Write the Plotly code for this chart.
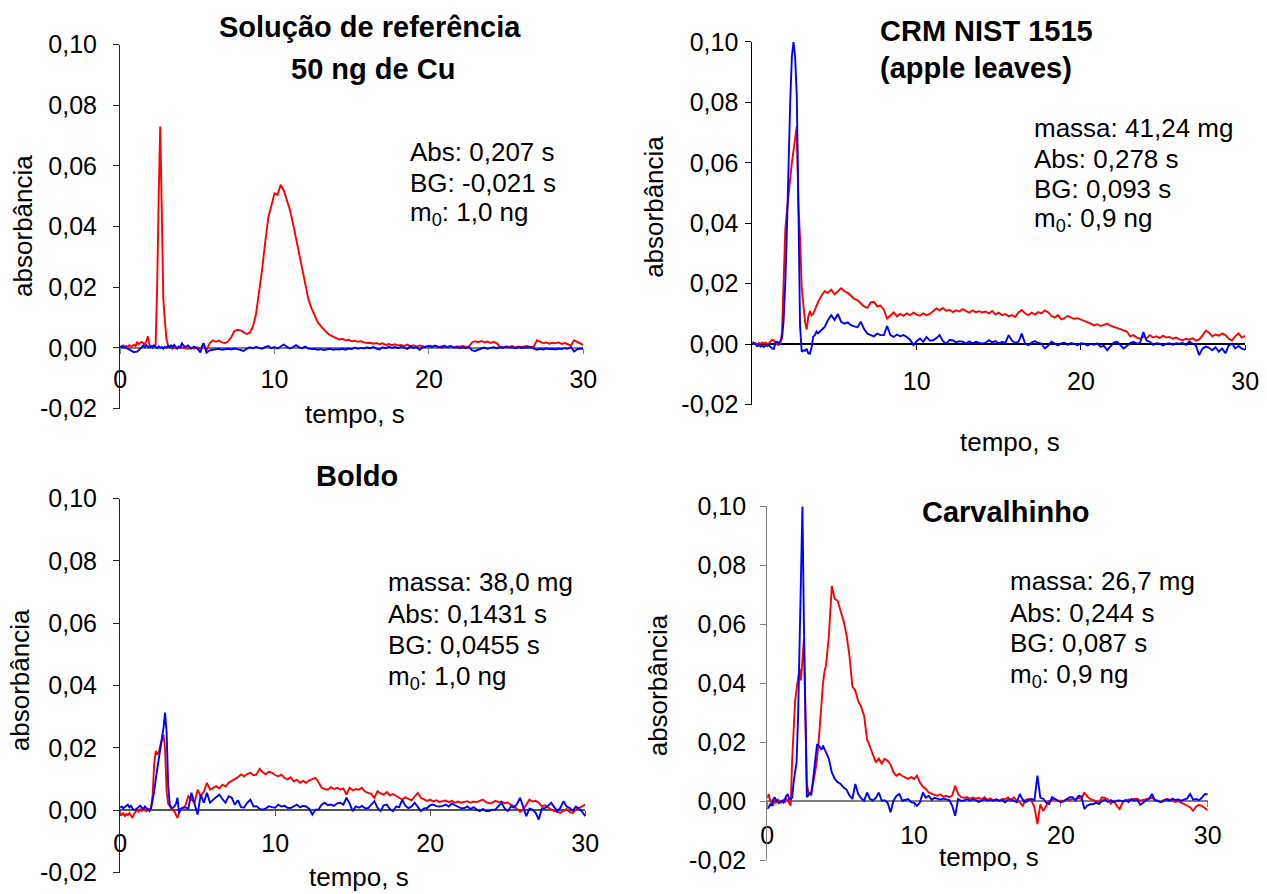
import numpy as np
import plotly.graph_objects as go

# time grid (s): 0.1 s steps up to 4 s, then 0.2 s steps up to 30 s
T = np.round(np.concatenate([np.arange(0, 41) / 10.0, 4.2 + np.arange(130) * 0.2]), 2)

# ---------- values in milli-absorbance (x 0.001) ----------
p1_red = [0.5,0.3,0.8,0.2,0.6,0.4,0.9,0.3,0.7,1.0,
          0.6,2.0,1.2,1.5,2.0,1.6,1.2,2.2,3.8,1.0,
          0.4,0.6,0.5,1.0,20,50,73,45,16,9,
          3,1,0.3,0.1,-0.3,0.2,0.0,-0.2,0.3,0.1,
          0.2,
          0.0,-0.3,0.1,-0.2,0.2,-0.4,1.4,-0.8,1.5,2.5,
          2.0,2.4,1.8,1.6,2.2,3.5,5.5,6.0,5.8,5.2,
          4.6,5.0,7.0,11,18,26,35,43,47,51,
          50.5,53.8,52,49,45.5,41,36,31,27,21,
          16,13,10.5,8.5,7.2,6.0,5.0,4.2,3.6,3.2,
          2.8,3.0,2.5,2.7,2.2,2.4,2.0,2.2,1.8,1.6,
          1.7,1.4,1.6,1.2,1.5,1.0,1.3,0.9,1.2,0.8,
          1.0,0.6,1.1,0.5,0.9,0.4,0.8,0.6,0.3,0.7,
          0.4,0.6,0.2,0.5,0.8,0.3,0.6,0.2,0.5,0.4,
          0.6,0.3,0.5,1.8,2.2,1.9,2.3,1.8,2.1,1.6,
          2.0,1.5,0.4,0.2,0.5,0.3,0.6,0.2,0.5,0.3,
          0.4,0.6,0.2,0.5,2.5,2.0,1.6,1.8,1.4,1.7,
          1.5,1.8,1.3,1.6,1.2,0.8,2.5,2.0,1.6,1.0]
p1_blue = [0.3,0.5,0.1,0.4,0.0,-0.3,-0.6,-1.0,-1.3,-1.4,
           -1.3,-1.2,-0.8,-0.2,0.5,0.8,0.3,0.9,0.4,0.2,
           0.6,0.1,0.8,0.3,-0.1,0.5,0.0,0.3,-0.2,0.4,
           0.1,0.6,0.2,0.8,0.3,1.0,0.4,-0.2,0.5,0.2,
           1.5,
           0.3,0.8,-0.3,0.4,-0.2,-1.5,1.6,-1.6,-0.8,-0.6,
           -0.5,-0.3,-0.6,-0.4,-0.3,-0.5,-0.2,-0.4,-0.6,-1.0,
           -0.3,0.2,-0.2,0.4,0.0,-0.3,0.3,0.6,-0.1,0.3,
           -0.2,0.5,1.1,0.4,-0.2,0.3,0.9,0.2,-0.1,0.4,
           -0.2,-0.4,-0.3,-0.6,-0.4,-0.7,-0.5,-0.3,-0.6,-0.4,
           -0.5,-0.3,-0.6,-0.2,-0.4,0.1,-0.3,0.0,-0.2,0.2,
           -0.1,0.3,-0.2,-0.5,0.2,-0.1,0.4,0.0,0.3,-0.1,
           0.4,0.1,-0.3,0.5,0.0,0.3,-0.6,0.2,0.4,0.6,
           0.3,0.8,0.4,0.1,0.5,0.2,0.6,0.1,0.3,0.0,
           0.2,-0.1,0.3,-0.8,-1.0,-0.5,-0.2,0.1,-0.3,0.0,
           0.2,-0.1,0.3,0.0,0.4,0.1,0.2,-0.1,0.3,0.0,
           0.2,0.1,0.3,-0.2,-0.6,-0.3,-0.5,-0.2,-0.4,-0.3,
           -0.5,-0.2,-0.4,-0.1,-0.3,0.3,-1.2,-0.5,-0.2,-0.3]

p2_red = [0.5,0.0,0.3,-0.2,0.4,0.1,0.6,0.2,0.5,0.0,
          0.3,0.8,1.5,1.2,0.4,0.0,-0.3,0.4,4.0,25,
          38,44,50,55,60,64,69,72,46,35,
          19,13,7.5,4.8,9.0,11,9.5,10,11.5,12.5,
          14,
          16,17.5,17,18,16.5,17.5,18.5,17.5,17,16,
          15,14.5,13.5,12.5,12.0,13.8,14,12.5,12.8,11.5,
          8.5,9.5,10.5,9.2,10.0,9.4,10.2,9.6,10.4,9.8,
          9.4,10.2,9.6,10.0,11.0,11.8,11.2,12.0,11.0,11.4,
          10.6,11.2,10.8,11.6,11.0,10.4,11.2,10.6,10.9,10.5,
          10.8,10.2,11.0,9.8,10.4,9.6,10.0,9.2,9.6,9.0,
          10.5,11.3,10.2,9.6,10.4,9.8,10.6,10.2,11.2,10.6,
          9.4,8.8,9.6,8.2,8.6,9.4,8.8,8.4,8.6,8.2,
          7.6,7.2,6.8,6.2,6.6,6.0,6.4,6.8,6.1,5.8,
          5.4,5.0,4.6,4.2,2.6,3.0,2.2,1.8,2.4,2.0,
          3.0,2.2,2.6,2.0,2.8,2.2,2.4,1.8,2.2,1.6,
          1.3,1.8,1.5,2.0,1.2,1.6,2.8,4.5,3.8,2.6,
          3.2,2.8,3.6,3.0,1.8,1.3,2.6,3.6,2.2,2.8]
p2_blue = [0.8,0.2,-0.4,-0.7,-0.2,-0.8,-0.5,-0.9,-0.3,-0.6,
           -0.4,-1.0,-1.4,-1.6,0.5,0.8,0.3,0.9,2.0,8,
           20,38,62,80,95,100,95,82,45,6,
           -2.5,-2.0,-2.2,-1.5,-3.0,-3.2,-1.2,2.5,3.0,4.2,
           3.6,
           4.6,5.7,8.0,9.6,8.0,10.0,7.4,6.8,7.2,6.3,
           5.9,5.6,7.4,5.0,3.5,3.0,2.6,3.5,3.0,3.0,
           6.0,3.0,2.4,3.2,2.6,3.0,2.4,1.5,-0.3,1.0,
           1.9,0.8,2.4,1.2,1.3,2.0,3.0,1.0,0.2,1.4,
           1.3,0.6,1.0,0.8,0.2,0.9,0.3,0.8,0.4,0.2,
           0.5,1.3,0.6,1.0,0.2,0.8,0.4,3.0,1.2,0.4,
           0.8,3.5,0.2,-0.3,0.5,1.0,0.4,0.2,-1.4,-0.5,
           0.8,0.2,-0.4,0.3,0.5,-0.2,0.4,0.1,-0.3,0.3,
           0.2,-0.4,0.1,-0.2,0.3,-0.9,-0.5,-2.0,-0.8,0.5,
           0.8,-0.3,-1.4,-0.6,0.4,0.8,0.2,0.4,4.0,1.2,
           0.8,-0.2,0.3,0.2,-0.4,0.1,0.3,-0.2,0.3,0.2,
           0.4,-0.2,0.8,0.2,-0.3,-3.6,-1.5,-0.8,-1.2,-2.0,
           -1.0,-2.5,-1.4,-3.0,-0.5,0.2,-1.4,-0.6,-1.5,-1.8]

p3_red = [-1.0,-1.5,-0.8,-2.0,-1.2,-1.6,-0.9,-1.8,-2.5,-1.2,
          -0.6,0.2,-0.4,0.3,-0.2,0.5,0.0,-0.3,0.4,0.2,
          0.7,5.0,15,19,18,18.5,21,23,24.3,19.5,
          6.0,2.0,1.3,0.5,0.0,-0.3,-1.2,-2.5,-1.0,0.2,
          0.7,
          1.3,4.5,3.5,2.4,6.6,4.5,6.0,8.8,6.6,7.2,
          7.7,7.0,8.2,7.6,8.8,9.4,9.9,10.6,11.5,10.9,
          11.6,12.0,11.2,11.5,13.3,12.2,11.5,12.4,12.0,11.3,
          10.9,11.4,10.4,9.9,10.6,9.3,9.8,8.8,9.4,8.8,
          9.6,9.9,10.4,9.0,7.2,6.8,6.6,7.4,6.8,7.2,
          6.6,7.0,5.0,7.2,6.4,6.8,6.6,7.2,6.0,5.6,
          5.2,4.0,6.1,5.4,5.0,5.8,4.8,5.2,4.5,4.0,
          3.4,4.2,3.6,3.2,4.4,5.6,4.0,3.4,3.0,3.4,
          2.8,3.2,2.6,2.9,3.1,2.6,3.0,2.4,2.8,2.4,
          2.6,2.9,2.4,2.8,2.6,3.0,3.4,2.6,2.2,2.4,
          3.0,2.6,2.8,2.2,2.5,1.8,1.3,0.4,-0.5,0.2,
          2.0,3.4,2.8,3.0,2.4,1.3,1.6,0.8,0.2,-0.3,
          -0.5,-0.8,-0.2,0.4,-0.6,-0.9,0.2,0.8,1.2,1.8]
p3_blue = [0.8,1.2,0.6,1.0,1.3,1.8,0.9,1.4,0.5,0.2,
           0.2,0.6,1.0,1.5,0.8,0.3,1.2,0.6,0.2,-0.3,
           0.8,3.0,6.0,10,13.5,16.5,19,22.5,26.5,31.3,
           25,8.0,2.0,0.8,0.7,1.2,2.0,4.0,-0.9,0.4,
           0.7,
           0.9,0.5,5.6,2.0,-1.4,5.0,2.4,5.6,2.4,3.4,
           4.2,5.0,3.6,2.4,4.5,4.0,1.8,3.2,1.0,0.9,
           2.4,3.4,1.2,1.3,0.4,0.2,0.6,1.3,1.0,0.8,
           1.8,1.2,1.4,0.8,0.7,1.2,1.8,0.9,1.4,1.2,
           0.4,-1.4,0.2,0.2,1.8,2.4,1.6,1.8,1.4,2.2,
           2.4,1.8,4.0,2.2,-0.3,1.2,0.8,1.4,0.6,0.7,
           1.8,2.9,0.8,-0.3,1.6,1.8,0.4,-0.3,1.2,1.0,
           3.4,1.4,0.7,1.2,2.4,0.9,-0.3,0.6,0.7,1.6,
           1.8,1.3,1.2,1.4,1.8,1.2,2.2,1.6,1.2,0.6,
           0.7,1.2,0.4,1.0,0.2,-0.3,0.4,-0.3,-0.3,0.2,
           0.2,1.4,2.4,0.6,-0.3,1.2,0.8,2.0,4.0,1.0,
           -1.9,0.5,0.2,-0.8,-3.0,0.6,0.7,1.4,2.4,1.0,
           -0.3,0.8,2.9,1.2,0.7,-0.2,1.2,0.5,-0.5,-1.9]

p4_red = [1.0,2.5,0.4,-0.5,-1.5,0.2,-0.6,0.8,0.1,-0.4,
          -0.3,0.4,-0.2,0.8,0.3,-0.8,-1.5,14,27,34,
          38,42,45,41,50,55,30,6,3.0,2.5,
          3.0,5.0,8.0,11,14.5,20,27.5,35,40,44,
          46,
          56,73,68.6,68,64.5,61.2,56.5,49.4,39,37.5,
          34,32,29,21,18.5,15.5,13.2,14.5,12.8,14.4,
          13.8,12.5,9.8,8.7,9.4,8.6,8.0,7.6,8.2,7.6,
          8.7,6.4,5.0,4.2,3.0,2.5,2.2,1.9,2.4,1.6,
          1.9,1.4,2.0,5.3,2.5,1.4,1.2,1.5,0.8,1.3,
          0.9,1.2,0.7,1.4,0.5,1.0,0.3,0.6,0.2,0.8,
          0.7,1.3,0.2,1.4,0.2,-0.3,-1.5,0.5,0.8,0.2,
          -2.0,-7.7,-1.0,-3.2,-1.5,0.2,0.5,0.8,0.2,0.3,
          0.2,0.8,0.4,0.9,0.5,1.2,0.8,3.0,1.6,0.8,
          0.5,0.2,-0.3,1.4,1.2,0.6,-0.8,0.2,-1.5,-2.6,
          -0.4,0.2,0.6,0.4,0.8,0.9,0.2,0.5,0.7,1.0,
          1.2,0.5,0.2,-0.3,0.4,0.8,0.6,0.3,-0.2,0.1,
          -0.5,-1.0,-1.5,-2.0,-3.2,-1.8,-1.2,-1.5,-2.4,-3.0]
p4_blue = [-2.6,-2.0,-1.0,-1.5,0.5,1.4,0.3,0.0,-0.6,-0.2,
           0.2,-0.4,0.8,1.8,2.5,0.6,0.8,1.2,6.5,10,
           13.2,28,50,75,100,60,25,1.4,2.0,3.0,
           2.0,7.0,11.5,14.4,19.4,19.0,18.3,17.5,18.9,17.8,
           17.2,
           14.4,9.8,7.6,6.5,5.9,4.7,4.0,2.0,0.8,5.9,
           2.5,1.0,0.2,3.0,0.8,0.3,1.2,3.0,0.2,0.4,
           -0.5,-3.7,0.2,1.8,2.5,0.2,0.5,0.8,-0.3,-0.5,
           -1.5,-0.4,3.0,1.2,1.9,0.5,1.2,0.8,0.6,0.9,
           0.7,0.4,-1.5,-4.9,0.8,0.2,0.3,0.8,0.2,0.7,
           0.4,-0.2,0.2,0.7,0.3,0.5,0.2,0.7,0.2,0.4,
           -0.3,0.5,0.7,0.2,-0.3,2.5,0.6,-0.3,0.5,0.8,
           0.4,8.7,1.2,0.9,-0.5,-0.9,1.4,0.8,0.2,-0.3,
           0.0,0.6,1.4,1.4,0.4,1.9,1.6,-2.6,-1.4,-1.0,
           -0.9,-0.5,-0.9,0.2,0.6,-0.2,0.4,-0.3,0.2,0.3,
           0.0,0.4,-0.2,0.8,0.2,0.6,-1.2,-0.5,0.4,0.8,
           2.5,0.4,0.2,-0.3,0.3,0.7,0.2,0.9,0.4,0.7,
           0.2,0.5,1.0,2.5,0.6,0.8,0.4,1.2,2.5,2.4]

y_ticks = [-0.02, 0.0, 0.02, 0.04, 0.06, 0.08, 0.10]
y_labels = ["-0,02", "0,00", "0,02", "0,04", "0,06", "0,08", "0,10"]

titles = [["Solução de referência", "50 ng de Cu"], ["CRM NIST 1515", "(apple leaves)"],
          ["Boldo"], ["Carvalhinho"]]
infos = [["Abs: 0,207 s", "BG: -0,021 s", "m<sub>0</sub>: 1,0 ng"],
         ["massa: 41,24 mg", "Abs: 0,278 s", "BG: 0,093 s", "m<sub>0</sub>: 0,9 ng"],
         ["massa: 38,0 mg", "Abs: 0,1431 s", "BG: 0,0455 s", "m<sub>0</sub>: 1,0 ng"],
         ["massa: 26,7 mg", "Abs: 0,244 s", "BG: 0,087 s", "m<sub>0</sub>: 0,9 ng"]]
x_ticks = [[0, 10, 20, 30], [10, 20, 30], [0, 10, 20, 30], [0, 10, 20, 30]]

series = [(p1_red, p1_blue), (p2_red, p2_blue), (p3_red, p3_blue), (p4_red, p4_blue)]
for r, b in series:
    assert len(r) == len(T) and len(b) == len(T), (len(r), len(b))

W, H = 1267, 894
FONT = "Liberation Sans, Arial, sans-serif"

# pixel geometry of each panel: (left, right, top(0.10), bottom(-0.02))
boxes = [(115, 586, 31.7, 407.3), (758, 1259, 28.7, 403.3),
         (115, 588, 500.3, 886.3), (773, 1221, 508.3, 873.7)]
yline_col = ["#222222", "#000000", "#222222", "#808080"]
zero_col = ["#808080", "#000000", "#555555", "#808080"]
x_standoff = [4, 10, 6, 7]
y_standoff = [11, 2, 11, 9]
# text positions (px)
title_pos = [[(369, 13), (372, 57)], [(886, 18, "left"), (886, 56, "left")], [(356, 477)], [(1016, 514)]]
info_pos = [(408, [142, 174, 206]), (1042, [118, 150, 181, 212]),
            (385, [586, 619, 651, 685]), (1018, [585, 618, 649, 683])]
xtitle_pos = [(354, 413), (1020, 442), (358, 891), (999, 870)]
ytitle_pos = [(16, 219), (658, 199), (14, 688), (662, 693)]

fig = go.Figure()
ann = []
lay = dict(width=W, height=H, margin=dict(l=0, r=0, t=0, b=0),
           paper_bgcolor="white", plot_bgcolor="white", showlegend=False,
           font=dict(family=FONT, color="black", size=25))

for i in range(4):
    n = "" if i == 0 else str(i + 1)
    l, r, t, b = boxes[i]
    dx = [l / W, r / W]
    dy = [1 - b / H, 1 - t / H]
    zero_pos = dy[0] + (dy[1] - dy[0]) * (0.02 / 0.12)
    red, blue = series[i]
    fig.add_trace(go.Scatter(x=T, y=np.array(red) / 1000.0, mode="lines",
                             line=dict(color="#FF0000", width=1.9),
                             xaxis="x" + n, yaxis="y" + n, hoverinfo="skip"))
    fig.add_trace(go.Scatter(x=T, y=np.array(blue) / 1000.0, mode="lines",
                             line=dict(color="#0000FF", width=1.9),
                             xaxis="x" + n, yaxis="y" + n, hoverinfo="skip"))
    lay["xaxis" + n] = dict(domain=dx, range=[0, 30], anchor="free", position=zero_pos,
                            showline=True, linecolor=zero_col[i], linewidth=1.5,
                            ticks="outside", ticklen=5, tickcolor=zero_col[i],
                            tickvals=x_ticks[i], ticktext=[str(v) for v in x_ticks[i]],
                            tickfont=dict(size=25, family=FONT),
                            ticklabelstandoff=x_standoff[i],
                            showgrid=False, zeroline=False, layer="below traces",
                            fixedrange=True)
    lay["yaxis" + n] = dict(domain=dy, range=[-0.02, 0.10], anchor="x" + n,
                            showline=True, linecolor=yline_col[i], linewidth=1.2,
                            ticks="outside", ticklen=6, tickcolor=yline_col[i],
                            tickvals=y_ticks, ticktext=y_labels,
                            tickfont=dict(size=25, family=FONT),
                            ticklabelstandoff=y_standoff[i],
                            showgrid=False, zeroline=False, fixedrange=True)
    for txt, pos in zip(titles[i], title_pos[i]):
        anchor = pos[2] if len(pos) > 2 else "center"
        ann.append(dict(text="<b>" + txt + "</b>", x=pos[0] / W, y=1 - pos[1] / H,
                        xref="paper", yref="paper", xanchor=anchor, yanchor="middle",
                        showarrow=False, font=dict(size=29, family=FONT)))
    ix, iys = info_pos[i]
    for txt, yy in zip(infos[i], iys):
        ann.append(dict(text=txt, x=ix / W, y=1 - yy / H, xref="paper", yref="paper",
                        xanchor="left", yanchor="middle", showarrow=False,
                        font=dict(size=26, family=FONT)))
    ann.append(dict(text="tempo, s", x=xtitle_pos[i][0] / W, y=1 - xtitle_pos[i][1] / H,
                    xref="paper", yref="paper", xanchor="center", yanchor="middle",
                    showarrow=False, font=dict(size=26, family=FONT)))
    ann.append(dict(text="absorbância", x=ytitle_pos[i][0] / W, y=1 - ytitle_pos[i][1] / H,
                    xref="paper", yref="paper", xanchor="center", yanchor="middle",
                    textangle=-90, showarrow=False, font=dict(size=26, family=FONT)))

lay["annotations"] = ann
fig.update_layout(**lay)
fig.write_html("out.html", config={"displayModeBar": False},
               post_script="document.body.style.margin='0';document.body.style.overflow='hidden';")
